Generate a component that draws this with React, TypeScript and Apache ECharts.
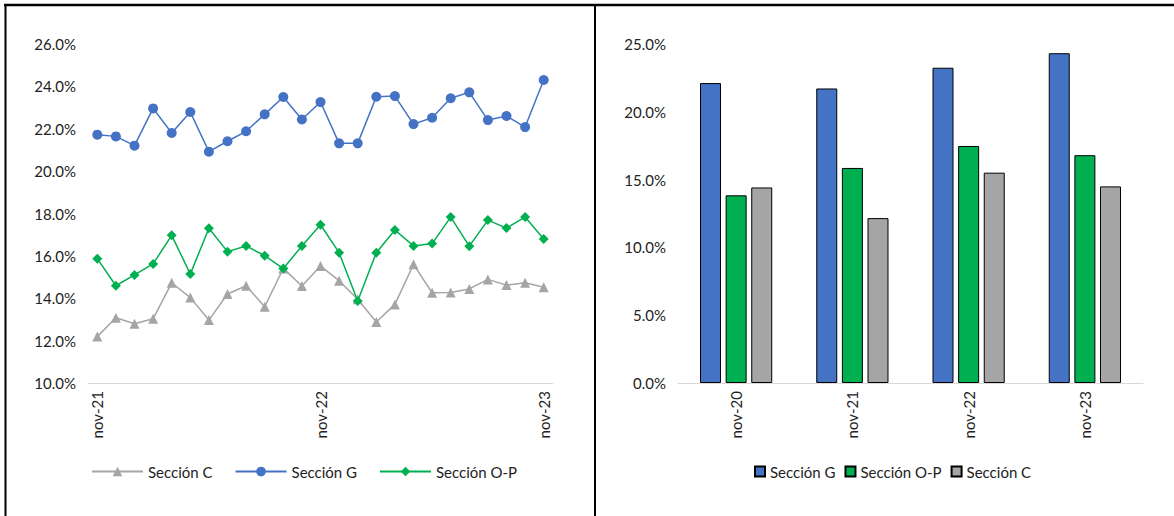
import React, { useEffect, useRef } from "react";
import * as echarts from "echarts";

const months = [
  "nov-21", "dic-21", "ene-22", "feb-22", "mar-22", "abr-22", "may-22", "jun-22", "jul-22", "ago-22", "sep-22", "oct-22",
  "nov-22", "dic-22", "ene-23", "feb-23", "mar-23", "abr-23", "may-23", "jun-23", "jul-23", "ago-23", "sep-23", "oct-23",
  "nov-23",
];
const seccionC = [
  12.19, 13.08, 12.8, 13.03, 14.73, 14.03, 12.97, 14.2, 14.59, 13.6, 15.41, 14.58,
  15.52, 14.83, 13.95, 12.88, 13.71, 15.6, 14.26, 14.27, 14.44, 14.89, 14.62, 14.73,
  14.52,
];
const seccionG = [
  21.72, 21.64, 21.2, 22.96, 21.8, 22.79, 20.92, 21.41, 21.88, 22.68, 23.5, 22.44,
  23.26, 21.31, 21.31, 23.51, 23.54, 22.22, 22.52, 23.44, 23.72, 22.41, 22.6, 22.08,
  24.3,
];
const seccionOP = [
  15.87, 14.59, 15.1, 15.62, 16.97, 15.14, 17.3, 16.2, 16.47, 16.01, 15.4, 16.47,
  17.47, 16.15, 13.87, 16.15, 17.22, 16.47, 16.58, 17.83, 16.46, 17.69, 17.31, 17.83,
  16.8,
];

const years = ["nov-20", "nov-21", "nov-22", "nov-23"];
const barG = [22.12, 21.72, 23.25, 24.32];
const barOP = [13.84, 15.86, 17.48, 16.8];
const barC = [14.42, 12.16, 15.51, 14.5];

const BLUE = "#4472C4";
const GREEN = "#00B050";
const GRAY = "#A5A5A5";
const TEXT = "#222222";
const FONT = "Lato, 'Open Sans', sans-serif";

export default function App() {
  const ref = useRef<HTMLDivElement>(null);

  useEffect(() => {
    if (!ref.current) return;
    const chart = echarts.init(ref.current, undefined, { renderer: "svg" });
    const pct = (v: number) => v.toFixed(1) + "%";
    const labelStyle = { color: TEXT, fontSize: 15, fontFamily: FONT };

    chart.setOption({
      animation: false,
      backgroundColor: "#ffffff",
      textStyle: { fontFamily: FONT },
      grid: [
        { left: 88, top: 44, width: 465, height: 339 },
        { left: 678, top: 44, width: 465, height: 339 },
      ],
      xAxis: [
        {
          type: "category",
          gridIndex: 0,
          data: months,
          boundaryGap: true,
          axisLine: { lineStyle: { color: "#D9D9D9", width: 1 } },
          axisTick: { interval: 11, length: 5, lineStyle: { color: "#D9D9D9" } },
          axisLabel: { ...labelStyle, interval: 11, rotate: 90, margin: 8 },
        },
        {
          type: "category",
          gridIndex: 1,
          data: years,
          boundaryGap: true,
          axisLine: { lineStyle: { color: "#D9D9D9", width: 1 } },
          axisTick: { length: 5, lineStyle: { color: "#D9D9D9" } },
          axisLabel: { ...labelStyle, rotate: 90, margin: 8 },
        },
      ],
      yAxis: [
        {
          type: "value",
          gridIndex: 0,
          min: 10,
          max: 26,
          interval: 2,
          axisLine: { show: false },
          axisTick: { show: false },
          splitLine: { show: false },
          axisLabel: { ...labelStyle, margin: 12, formatter: pct },
        },
        {
          type: "value",
          gridIndex: 1,
          min: 0,
          max: 25,
          interval: 5,
          axisLine: { show: false },
          axisTick: { show: false },
          splitLine: { show: false },
          axisLabel: { ...labelStyle, margin: 12, formatter: pct },
        },
      ],
      legend: [
        {
          data: ["Sección C", "Sección G", "Sección O-P"].map((n) => ({ name: n })),
          left: 86,
          top: 459,
          itemWidth: 51,
          itemHeight: 12,
          itemGap: 22,
          textStyle: labelStyle,
        },
        {
          data: ["Sección G ", "Sección O-P ", "Sección C "],
          left: 749,
          top: 459,
          itemWidth: 10,
          itemHeight: 10,
          itemGap: 9,
          icon: "rect",
          textStyle: labelStyle,
          formatter: (n: string) => n.trim(),
        },
      ],
      series: [
        {
          name: "Sección C",
          type: "line",
          xAxisIndex: 0,
          yAxisIndex: 0,
          data: seccionC,
          symbol: "triangle",
          symbolSize: 10,
          lineStyle: { color: GRAY, width: 1.5 },
          itemStyle: { color: GRAY },
        },
        {
          name: "Sección G",
          type: "line",
          xAxisIndex: 0,
          yAxisIndex: 0,
          data: seccionG,
          symbol: "circle",
          symbolSize: 10,
          lineStyle: { color: BLUE, width: 1.5 },
          itemStyle: { color: BLUE },
        },
        {
          name: "Sección O-P",
          type: "line",
          xAxisIndex: 0,
          yAxisIndex: 0,
          data: seccionOP,
          symbol: "diamond",
          symbolSize: 10,
          lineStyle: { color: GREEN, width: 1.5 },
          itemStyle: { color: GREEN },
        },
        {
          name: "Sección G ",
          type: "bar",
          xAxisIndex: 1,
          yAxisIndex: 1,
          data: barG,
          barWidth: 21,
          barGap: "22%",
          itemStyle: { color: BLUE, borderColor: "#000", borderWidth: 1 },
        },
        {
          name: "Sección O-P ",
          type: "bar",
          xAxisIndex: 1,
          yAxisIndex: 1,
          data: barOP,
          barWidth: 21,
          barGap: "22%",
          itemStyle: { color: GREEN, borderColor: "#000", borderWidth: 1 },
        },
        {
          name: "Sección C ",
          type: "bar",
          xAxisIndex: 1,
          yAxisIndex: 1,
          data: barC,
          barWidth: 21,
          barGap: "22%",
          itemStyle: { color: GRAY, borderColor: "#000", borderWidth: 1 },
        },
      ],
      graphic: [
        { type: "line", shape: { x1: 4, y1: 5, x2: 1174, y2: 5 }, style: { stroke: "#000", lineWidth: 2.5 } },
        { type: "line", shape: { x1: 5.5, y1: 4, x2: 5.5, y2: 516 }, style: { stroke: "#000", lineWidth: 2 } },
        { type: "line", shape: { x1: 595, y1: 4, x2: 595, y2: 516 }, style: { stroke: "#000", lineWidth: 2 } },
      ],
    });

    return () => chart.dispose();
  }, []);

  return (
    <div
      ref={ref}
      style={{ position: "fixed", left: 0, top: 0, width: 1174, height: 516, background: "#fff" }}
    />
  );
}
